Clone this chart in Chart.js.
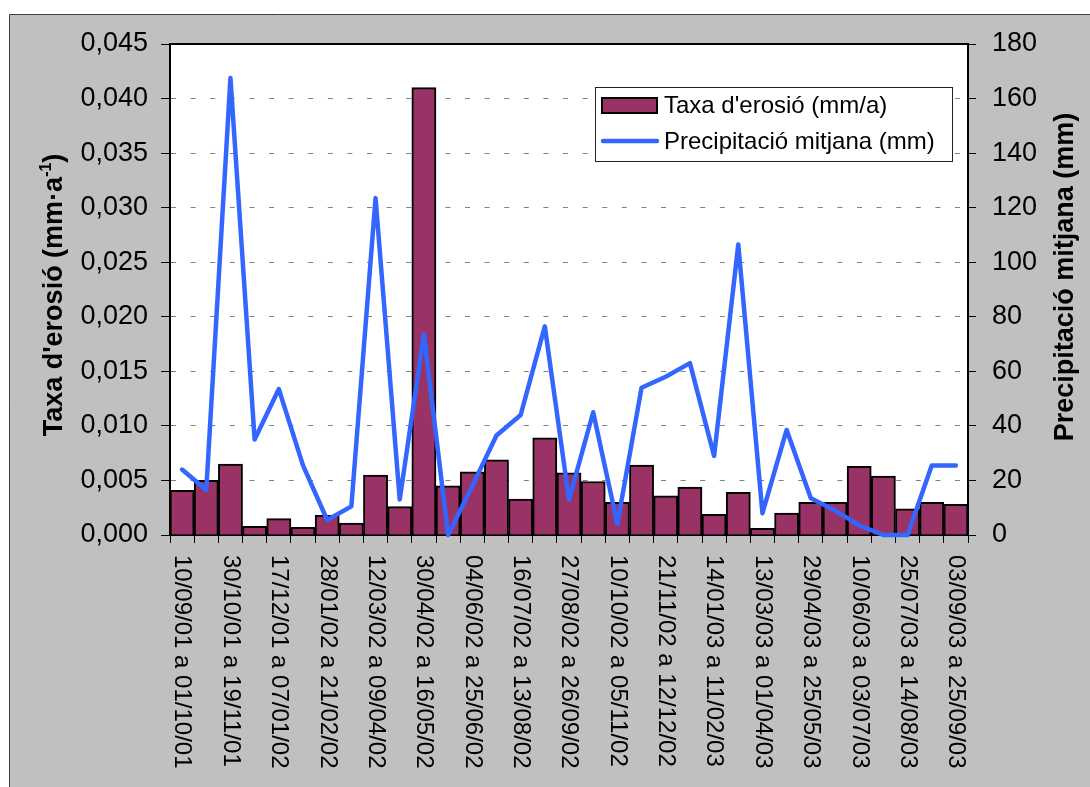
<!DOCTYPE html>
<html>
<head>
<meta charset="utf-8">
<script src="https://cdn.jsdelivr.net/npm/chart.js@4.4.0/dist/chart.umd.min.js"></script>
<style>
  body { margin: 0; background: #fff; }
  #erosio { display: block; }
</style>
</head>
<body>
<canvas id="erosio" width="1090" height="787"></canvas>
<script>
// periods between samplings
const periodes = [
  '10/09/01 a 01/10/01', '01/10/01 a 30/10/01', '30/10/01 a 19/11/01', '19/11/01 a 17/12/01',
  '17/12/01 a 07/01/02', '07/01/02 a 28/01/02', '28/01/02 a 21/02/02', '21/02/02 a 12/03/02',
  '12/03/02 a 09/04/02', '09/04/02 a 30/04/02', '30/04/02 a 16/05/02', '16/05/02 a 04/06/02',
  '04/06/02 a 25/06/02', '25/06/02 a 16/07/02', '16/07/02 a 13/08/02', '13/08/02 a 27/08/02',
  '27/08/02 a 26/09/02', '26/09/02 a 10/10/02', '10/10/02 a 05/11/02', '05/11/02 a 21/11/02',
  '21/11/02 a 12/12/02', '12/12/02 a 14/01/03', '14/01/03 a 11/02/03', '11/02/03 a 13/03/03',
  '13/03/03 a 01/04/03', '01/04/03 a 29/04/03', '29/04/03 a 25/05/03', '25/05/03 a 10/06/03',
  '10/06/03 a 03/07/03', '03/07/03 a 25/07/03', '25/07/03 a 14/08/03', '14/08/03 a 03/09/03',
  '03/09/03 a 25/09/03'
];

// erosion rate (mm/a)
const taxaErosio = [
  0.0041, 0.0050, 0.0065, 0.0008, 0.0015, 0.0007, 0.0018, 0.0011, 0.0055, 0.0026, 0.0410,
  0.0045, 0.0058, 0.0069, 0.0033, 0.0089, 0.0057, 0.0049, 0.0030, 0.0064, 0.0036, 0.0044,
  0.0019, 0.0039, 0.0006, 0.0020, 0.0030, 0.0030, 0.0063, 0.0054, 0.0024, 0.0030, 0.0028
];

// mean rainfall (mm)
const precipitacio = [
  24, 16.5, 167.5, 35, 53.5, 25.5, 5.5, 10.5, 123.5, 13, 73.5,
  0, 18, 36.5, 44, 76.5, 13, 45, 4, 54, 58, 63,
  29, 106.5, 8, 38.5, 13.5, 9, 3.5, 0, 0, 25.5, 25.5
];

const ticksTaxa = [0, 0.005, 0.010, 0.015, 0.020, 0.025, 0.030, 0.035, 0.040, 0.045];
const ticksPrec = [0, 20, 40, 60, 80, 100, 120, 140, 160, 180];

const FONT = "'Liberation Sans', Arial, sans-serif";
const GRANAT = '#993366';
const BLAU = '#3366FF';

Chart.defaults.font.family = FONT;
Chart.defaults.color = '#000';

// backgrounds, rotated period labels, axis titles and the legend box
const decorat = {
  id: 'decorat',
  beforeDraw(chart) {
    const { ctx, chartArea: a } = chart;
    ctx.save();
    ctx.fillStyle = '#fff';
    ctx.fillRect(0, 0, chart.width, chart.height);
    ctx.fillStyle = '#c0c0c0';
    ctx.fillRect(9, 14, chart.width - 9, chart.height - 14);
    ctx.strokeStyle = '#404040';
    ctx.lineWidth = 1;
    ctx.beginPath();
    ctx.moveTo(9.5, chart.height);
    ctx.lineTo(9.5, 14.5);
    ctx.lineTo(chart.width, 14.5);
    ctx.stroke();
    ctx.fillStyle = '#fff';
    ctx.fillRect(a.left, a.top, a.right - a.left, a.bottom - a.top);
    ctx.restore();
  },
  afterDraw(chart) {
    const { ctx, chartArea: a } = chart;
    const xs = chart.scales.x;
    ctx.save();

    // top edge of the plot
    ctx.strokeStyle = '#000';
    ctx.lineWidth = 2;
    ctx.beginPath();
    ctx.moveTo(a.left - 1, a.top);
    ctx.lineTo(a.right + 1, a.top);
    ctx.stroke();

    // period labels, every other one, reading downwards
    ctx.fillStyle = '#000';
    ctx.font = '24px ' + FONT;
    ctx.textAlign = 'left';
    ctx.textBaseline = 'middle';
    periodes.forEach((p, i) => {
      if (i % 2) return;
      ctx.save();
      ctx.translate(xs.getPixelForValue(i), a.bottom + 20);
      ctx.rotate(Math.PI / 2);
      ctx.fillText(p, 0, 0);
      ctx.restore();
    });

    // left title with superscript
    ctx.save();
    ctx.translate(62, 295);
    ctx.rotate(-Math.PI / 2);
    ctx.textBaseline = 'alphabetic';
    const fBig = 'bold 27px ' + FONT, fSup = 'bold 16px ' + FONT;
    const t1 = "Taxa d'erosió (mm·a", t2 = '-1', t3 = ')';
    ctx.font = fBig;
    const w1 = ctx.measureText(t1).width, w3 = ctx.measureText(t3).width;
    ctx.font = fSup;
    const w2 = ctx.measureText(t2).width;
    let x0 = -(w1 + w2 + w3) / 2;
    ctx.font = fBig;
    ctx.fillText(t1, x0, 0);
    ctx.font = fSup;
    ctx.fillText(t2, x0 + w1, -11);
    ctx.font = fBig;
    ctx.fillText(t3, x0 + w1 + w2, 0);
    ctx.restore();

    // right title
    ctx.save();
    ctx.translate(1073, 277);
    ctx.rotate(-Math.PI / 2);
    ctx.font = 'bold 27px ' + FONT;
    ctx.textAlign = 'center';
    ctx.textBaseline = 'alphabetic';
    ctx.fillText('Precipitació mitjana (mm)', 0, 0);
    ctx.restore();

    // legend
    const ds = chart.data.datasets;
    ctx.fillStyle = '#fff';
    ctx.fillRect(595, 87, 357, 74);
    ctx.strokeStyle = '#222';
    ctx.lineWidth = 1;
    ctx.strokeRect(595.5, 87.5, 357, 74);

    ctx.fillStyle = GRANAT;
    ctx.fillRect(602, 98, 55, 15);
    ctx.strokeStyle = '#000';
    ctx.lineWidth = 2;
    ctx.strokeRect(602, 98, 55, 15);

    ctx.strokeStyle = BLAU;
    ctx.lineWidth = 4.5;
    ctx.lineCap = 'round';
    ctx.beginPath();
    ctx.moveTo(603, 141);
    ctx.lineTo(657, 141);
    ctx.stroke();

    ctx.fillStyle = '#000';
    ctx.font = '24px ' + FONT;
    ctx.textAlign = 'left';
    ctx.textBaseline = 'middle';
    ctx.fillText(ds[1].label, 664, 106);
    ctx.fillText(ds[0].label, 664, 142);

    ctx.restore();
  }
};

new Chart(document.getElementById('erosio'), {
  type: 'bar',
  data: {
    labels: periodes,
    datasets: [
      {
        type: 'line',
        label: 'Precipitació mitjana (mm)',
        data: precipitacio,
        yAxisID: 'y1',
        borderColor: BLAU,
        borderWidth: 4.5,
        borderJoinStyle: 'round',
        borderCapStyle: 'round',
        pointRadius: 0,
        tension: 0,
        clip: false,
        order: 0
      },
      {
        label: "Taxa d'erosió (mm/a)",
        data: taxaErosio,
        yAxisID: 'y',
        backgroundColor: GRANAT,
        borderColor: '#000',
        borderWidth: 2,
        barPercentage: 1,
        categoryPercentage: 1,
        order: 1
      }
    ]
  },
  options: {
    responsive: false,
    devicePixelRatio: 1,
    animation: false,
    layout: { padding: { top: 44, left: 0, right: 0, bottom: 0 } },
    plugins: {
      legend: { display: false },
      tooltip: { enabled: false }
    },
    scales: {
      x: {
        offset: true,
        grid: { offset: true, drawOnChartArea: false, drawTicks: true, tickLength: 8, tickColor: '#000' },
        border: { color: '#000', width: 2 },
        ticks: { display: false },
        afterFit: s => { s.height = 252; }
      },
      y: {
        position: 'left',
        min: 0,
        max: 0.045,
        afterBuildTicks: s => { s.ticks = ticksTaxa.map(v => ({ value: v })); },
        ticks: {
          font: { size: 27 },
          padding: 13,
          callback: v => v.toFixed(3).replace('.', ',')
        },
        grid: {
          color: c => (c.tick && (c.tick.value <= 0 || c.tick.value >= 0.0449)) ? 'rgba(0,0,0,0)' : '#808080',
          tickColor: '#000',
          tickLength: 9,
          lineWidth: 1
        },
        border: { color: '#000', width: 2, dash: [5, 14.6] },
        afterFit: s => { s.width = 170; }
      },
      y1: {
        position: 'right',
        min: 0,
        max: 180,
        afterBuildTicks: s => { s.ticks = ticksPrec.map(v => ({ value: v })); },
        ticks: { font: { size: 27 }, padding: 16 },
        grid: { drawOnChartArea: false, tickColor: '#000', tickLength: 8 },
        border: { color: '#000', width: 2 },
        afterFit: s => { s.width = 122; }
      }
    }
  },
  plugins: [decorat]
});
</script>
</body>
</html>
